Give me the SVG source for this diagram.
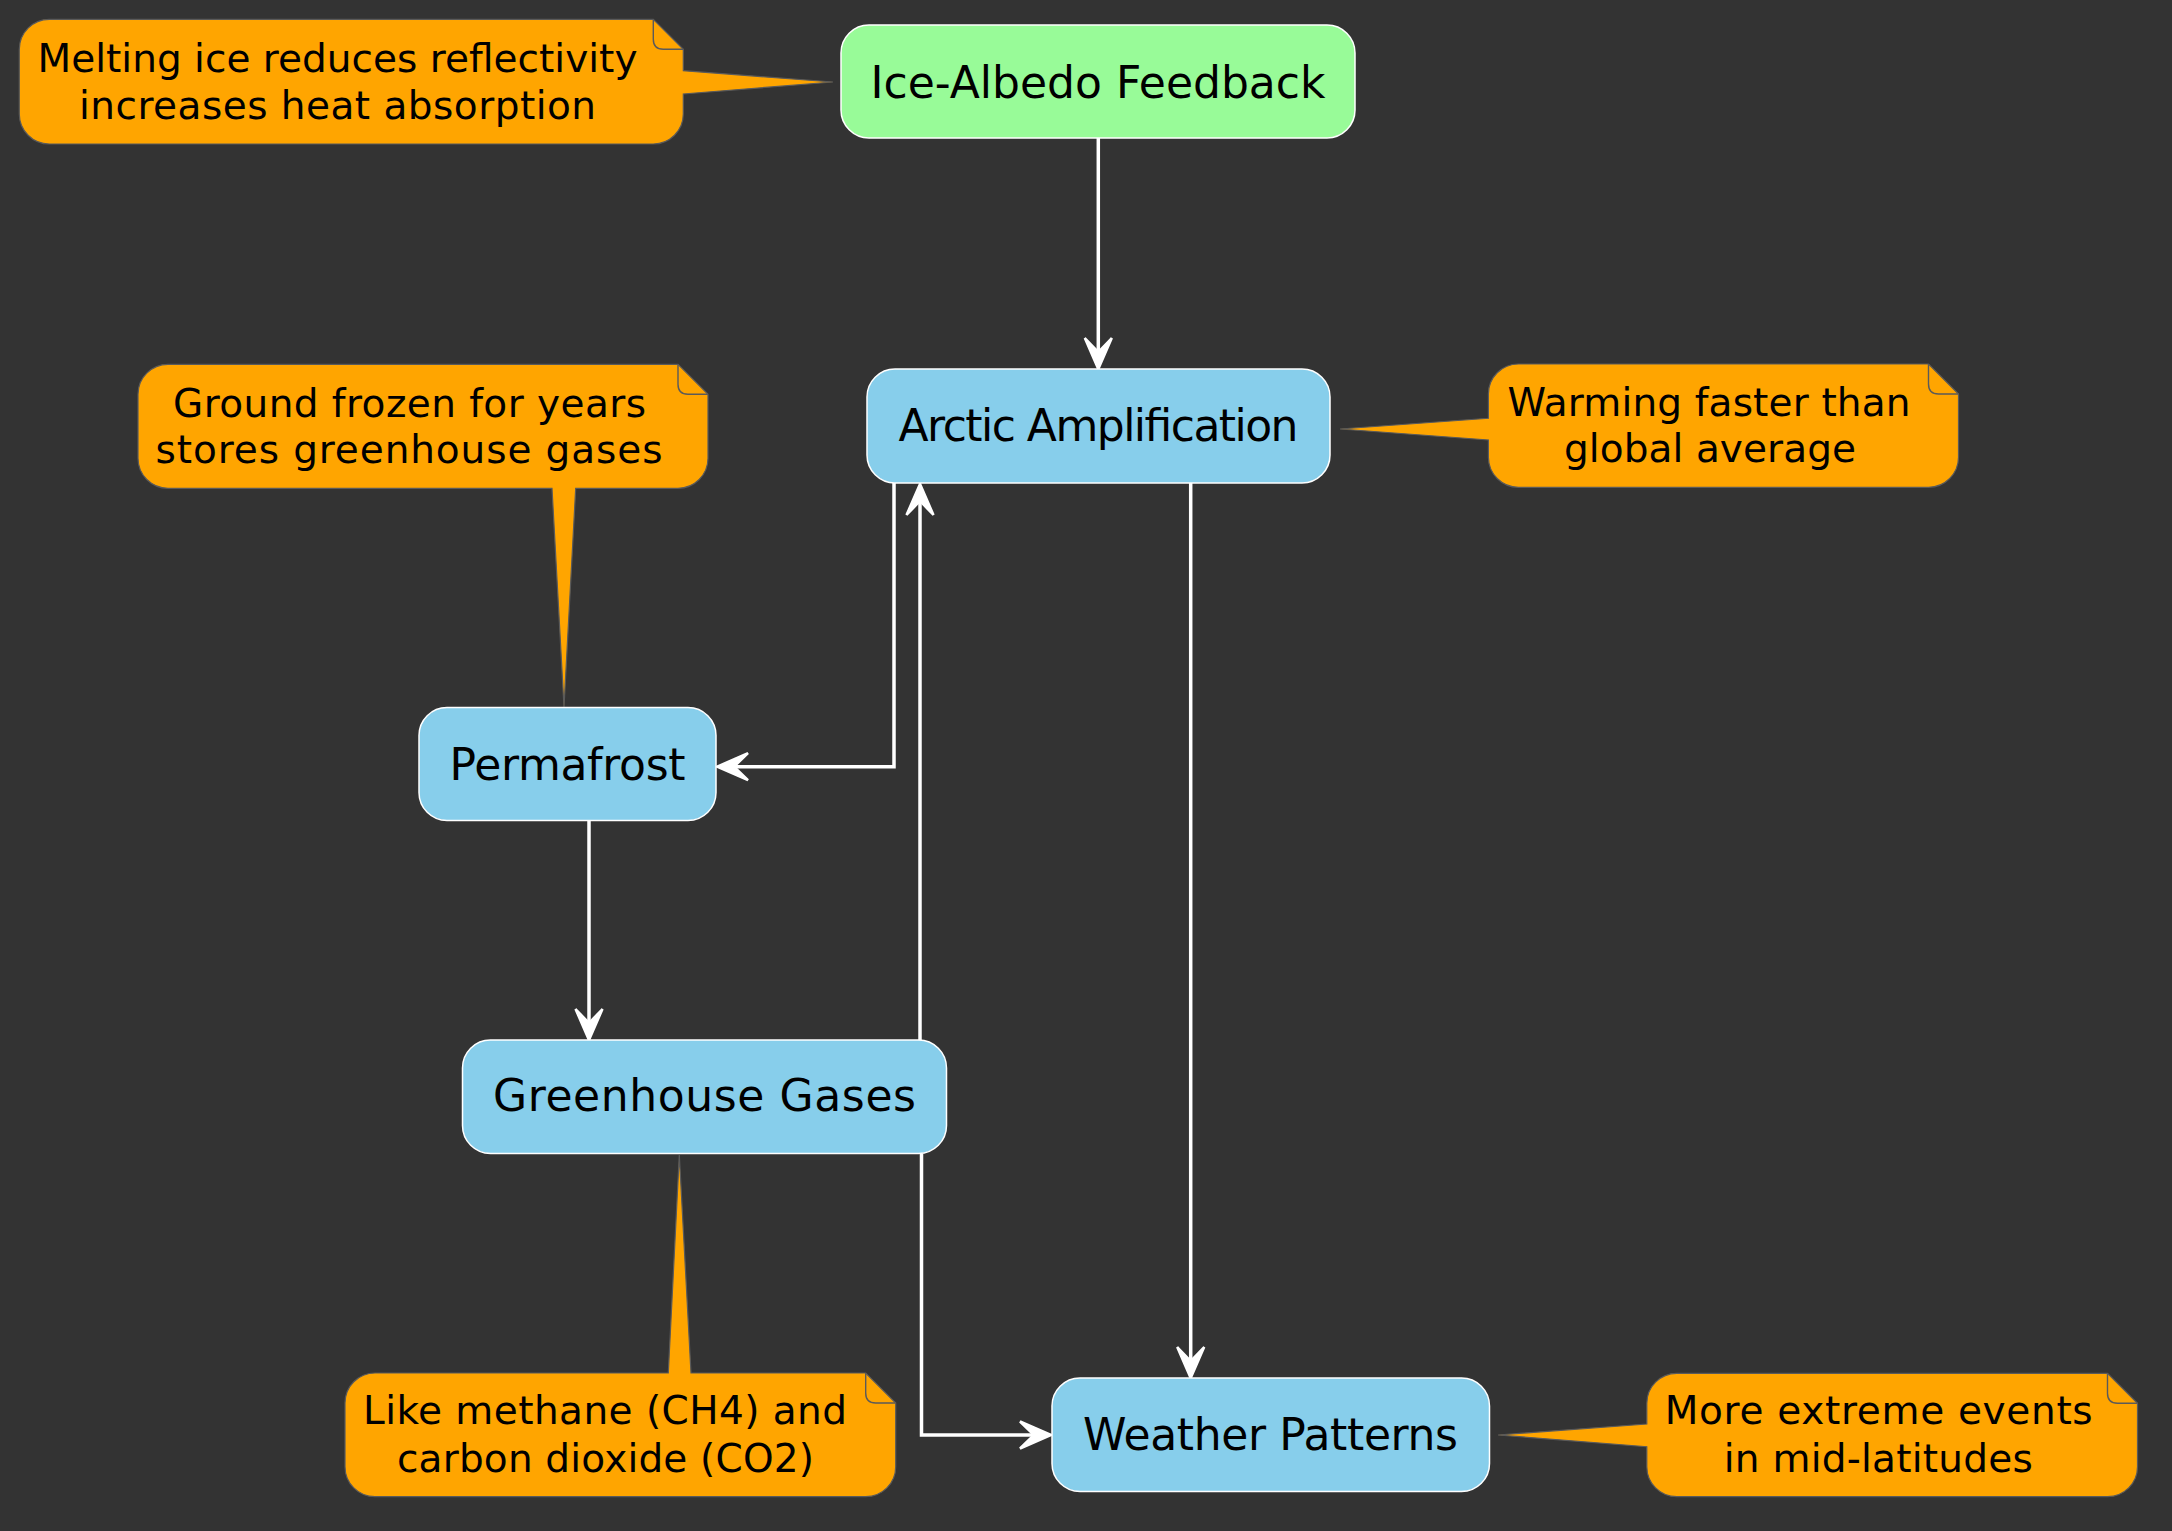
<svg xmlns="http://www.w3.org/2000/svg" width="2172" height="1531" viewBox="0 0 2172 1531">
<style>
.node rect{stroke:#ffffff;stroke-width:1.5}
.blue{fill:#87CEEB}
.green{fill:#98FB98}
.ntext{font-family:"DejaVu Sans",Verdana,sans-serif;font-size:44px;fill:#000;text-anchor:middle}
.note path.body{fill:#FFA500;stroke:#5a5a5a;stroke-width:1.2}
.note path.fold{fill:none;stroke:#5a5a5a;stroke-width:1.4}
.ttext{font-family:"DejaVu Sans",Verdana,sans-serif;font-size:39px;fill:#000;text-anchor:middle}
.edge{fill:none;stroke:#ffffff;stroke-width:3.5;marker-end:url(#ah)}
</style>
<defs>
<marker id="ah" markerUnits="userSpaceOnUse" markerWidth="40" markerHeight="40" refX="0" refY="0" orient="auto" overflow="visible">
<path d="M9,0 L-22,-13.5 L-8,0 L-22,13.5 Z" fill="#ffffff" stroke="#ffffff" stroke-width="2.5" stroke-linejoin="miter"/>
</marker>
</defs>
<rect x="0" y="0" width="2172" height="1531" fill="#333333"/>

<g id="connectors">
<path class="edge" d="M1098.3,138 V360"/>
<path class="edge" d="M894,483 V766.7 H726"/>
<path class="edge" d="M589,821 V1031"/>
<path class="edge" d="M920,1040 V493"/>
<path class="edge" d="M1190.7,483 V1369"/>
<path class="edge" d="M921.5,1153.5 V1435 H1042"/>
</g>

<g id="note-ice" class="note">
<path class="body" d="M49.3,19.3 H653.3 L683.3,49.3 V70.7 L833,82 L683.3,94 V114 A30,30 0 0 1 653.3,144 H49.3 A30,30 0 0 1 19.3,114 V49.3 A30,30 0 0 1 49.3,19.3 Z"/>
<path class="fold" d="M653.3,19.3 V39.3 Q653.3,49.3 663.3,49.3 H683.3"/>
<text class="ttext" x="337.5" y="71.7" textLength="600" lengthAdjust="spacing">Melting ice reduces reflectivity</text>
<text class="ttext" x="337.5" y="119" textLength="517" lengthAdjust="spacing">increases heat absorption</text>
</g>

<g id="note-arctic" class="note">
<path class="body" d="M1518.4,364 H1928.5 L1958.5,394 V457.3 A30,30 0 0 1 1928.5,487.3 H1518.4 A30,30 0 0 1 1488.4,457.3 V440 L1340,429 L1488.4,418.3 V394 A30,30 0 0 1 1518.4,364 Z"/>
<path class="fold" d="M1928.5,364 V384 Q1928.5,394 1938.5,394 H1958.5"/>
<text class="ttext" x="1709" y="416" textLength="403" lengthAdjust="spacing">Warming faster than</text>
<text class="ttext" x="1710" y="461.7" textLength="292" lengthAdjust="spacing">global average</text>
</g>

<g id="note-permafrost" class="note">
<path class="body" d="M168,364.3 H678 L708,394.3 V458.3 A30,30 0 0 1 678,488.3 H575.7 L564,707 L552,488.3 H168 A30,30 0 0 1 138,458.3 V394.3 A30,30 0 0 1 168,364.3 Z"/>
<path class="fold" d="M678,364.3 V384.3 Q678,394.3 688,394.3 H708"/>
<text class="ttext" x="409.5" y="416.7" textLength="473" lengthAdjust="spacing">Ground frozen for years</text>
<text class="ttext" x="409" y="463.3" textLength="507" lengthAdjust="spacing">stores greenhouse gases</text>
</g>

<g id="note-greenhouse" class="note">
<path class="body" d="M375,1373 H668.3 L679.3,1155 L691,1373 H865.7 L895.7,1403 V1466.7 A30,30 0 0 1 865.7,1496.7 H375 A30,30 0 0 1 345,1466.7 V1403 A30,30 0 0 1 375,1373 Z"/>
<path class="fold" d="M865.7,1373 V1393 Q865.7,1403 875.7,1403 H895.7"/>
<text class="ttext" x="605" y="1424.3" textLength="484" lengthAdjust="spacing">Like methane (CH4) and</text>
<text class="ttext" x="605.5" y="1472.3" textLength="417" lengthAdjust="spacing">carbon dioxide (CO2)</text>
</g>

<g id="note-weather" class="note">
<path class="body" d="M1676.8,1373.3 H2107.5 L2137.5,1403.3 V1466.7 A30,30 0 0 1 2107.5,1496.7 H1676.8 A30,30 0 0 1 1646.8,1466.7 V1446.7 L1498,1435 L1646.8,1424 V1403.3 A30,30 0 0 1 1676.8,1373.3 Z"/>
<path class="fold" d="M2107.5,1373.3 V1393.3 Q2107.5,1403.3 2117.5,1403.3 H2137.5"/>
<text class="ttext" x="1878.7" y="1424" textLength="428" lengthAdjust="spacing">More extreme events</text>
<text class="ttext" x="1878.3" y="1471.7" textLength="309" lengthAdjust="spacing">in mid-latitudes</text>
</g>

<g id="ice-albedo" class="node">
<rect class="green" x="841" y="25" width="514" height="113" rx="28" ry="28"/>
<text class="ntext" x="1098" y="97.5" textLength="455" lengthAdjust="spacing">Ice-Albedo Feedback</text>
</g>
<g id="arctic" class="node">
<rect class="blue" x="867" y="369" width="463" height="114" rx="28" ry="28"/>
<text class="ntext" x="1098.5" y="441" textLength="400" lengthAdjust="spacing">Arctic Amplification</text>
</g>
<g id="permafrost" class="node">
<rect class="blue" x="419" y="707.5" width="297" height="113" rx="28" ry="28"/>
<text class="ntext" x="567.5" y="779.5" textLength="236" lengthAdjust="spacing">Permafrost</text>
</g>
<g id="greenhouse" class="node">
<rect class="blue" x="462.5" y="1040" width="484" height="113.5" rx="28" ry="28"/>
<text class="ntext" x="704.5" y="1111" textLength="423" lengthAdjust="spacing">Greenhouse Gases</text>
</g>
<g id="weather" class="node">
<rect class="blue" x="1052" y="1378" width="437.5" height="113.5" rx="28" ry="28"/>
<text class="ntext" x="1270.5" y="1450" textLength="375" lengthAdjust="spacing">Weather Patterns</text>
</g>
</svg>
